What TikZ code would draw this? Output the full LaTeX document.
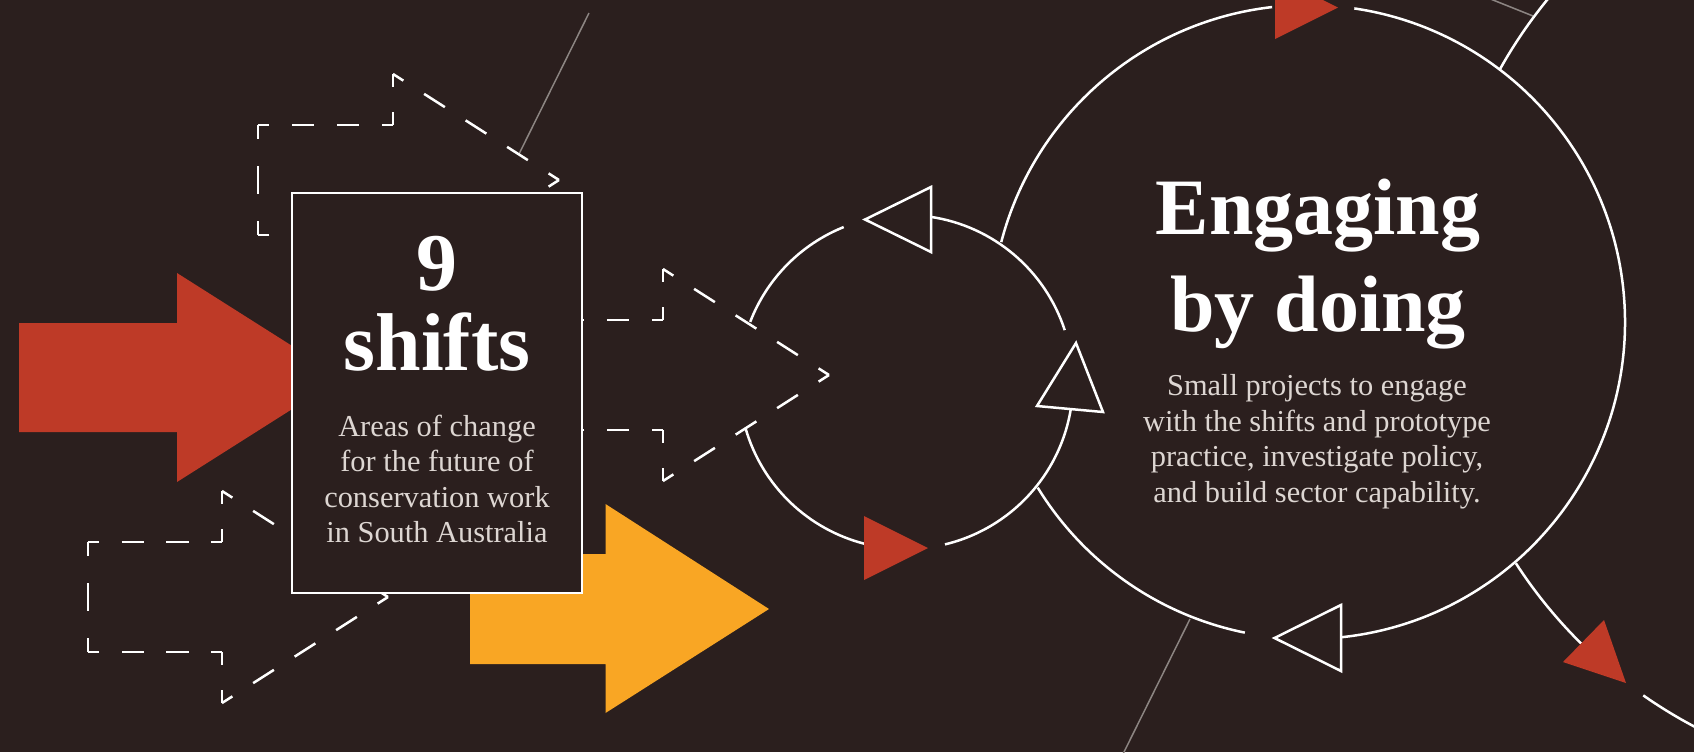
\documentclass[tikz,border=0pt]{standalone}
\usepackage{fontspec}
\setmainfont{Liberation Serif}
\usepackage{xcolor}
\usepackage{tikz}

\definecolor{bgbrown}{RGB}{43,31,30}
\definecolor{rustred}{RGB}{190,58,39}
\definecolor{ochre}{RGB}{249,166,36}
\definecolor{paletext}{RGB}{221,214,210}
\definecolor{greyline}{RGB}{140,133,130}

% one side of a dashed outline: dashes are stretched so that every
% corner gets half a dash from each side
\newcommand{\dashside}[2]{%
  \path (#1); \pgfgetlastxy{\dsax}{\dsay}%
  \path (#2); \pgfgetlastxy{\dsbx}{\dsby}%
  \pgfmathsetmacro{\dslen}{veclen(\dsbx-\dsax,\dsby-\dsay)}%
  \pgfmathsetmacro{\dsn}{max(1,round(\dslen/24))}%
  \pgfmathsetmacro{\dsd}{\dslen/(2*\dsn)}%
  \pgfmathsetmacro{\dsh}{\dsd/2}%
  \draw[dashedge, dash pattern=on \dsd pt off \dsd pt, dash phase=\dsh pt] (#1) -- (#2);%
}

\begin{document}
\begin{tikzpicture}[x=0.5pt,y=0.5pt,yscale=-1,xscale=1,
  whiteline/.style={draw=white,line width=1.25pt},
  dashedge/.style={draw=white,line width=1.25pt},
  openhead/.style={draw=white,fill=bgbrown,line width=1.25pt},
  leader/.style={draw=greyline,line width=0.75pt},
  boxframe/.style={draw=white,fill=bgbrown,line width=1pt},
  headtext/.style={text=white,align=center,anchor=base,inner sep=0pt,
    font=\fontsize{40}{48.5}\selectfont\bfseries},
  bodytext/.style={text=paletext,align=center,anchor=base,inner sep=0pt,
    font=\fontsize{15.2}{17.75}\selectfont}]
\useasboundingbox (0,0) rectangle (1694,752);
\fill[bgbrown] (0,0) rectangle (1694,752);
\clip (0,0) rectangle (1694,752);

%Straight Lines: thin grey leaders
\coordinate (lead1a) at (589,13);   \coordinate (lead1b) at (519,154);
\coordinate (lead2a) at (1488,-2);  \coordinate (lead2b) at (1533,16);
\coordinate (lead3a) at (1190,619); \coordinate (lead3b) at (1123,754);
\draw[leader] (lead1a) -- (lead1b);
\draw[leader] (lead2a) -- (lead2b);
\draw[leader] (lead3a) -- (lead3b);

%Shape: Circle arcs (big cycle, runs clockwise)
\coordinate (lc) at (1308,322);
\draw[whiteline] (lc) ++(-96.5:317) arc[start angle=-96.5, end angle=-165.4, radius=317];
\draw[whiteline] (lc) ++(84:317) arc[start angle=84, end angle=-81.6, radius=317];
\draw[whiteline] (lc) ++(-211.5:317) arc[start angle=-211.5, end angle=-258.5, radius=317];

%Shape: Circle arcs (side branch on the right)
\coordinate (tc) at (1918,303);
\draw[whiteline] (tc) ++(-135:479) arc[start angle=-135, end angle=-150.8, radius=479];
\draw[whiteline] (tc) ++(-212.9:479) arc[start angle=-212.9, end angle=-225.3, radius=479];
\draw[whiteline] (tc) ++(-235:479) arc[start angle=-235, end angle=-256, radius=479];

%Shape: dashed outline arrows (shaft left x / head x / centre y)
\foreach \n/\sx/\hx/\cy in {ul/258/393/180, md/528/663/375, ll/88/222/597}{
  \coordinate (\n1) at (\sx,\cy+55);
  \coordinate (\n2) at (\sx,\cy-55);
  \coordinate (\n3) at (\hx,\cy-55);
  \coordinate (\n4) at (\hx,\cy-106);
  \coordinate (\n5) at (\hx+166,\cy);
  \coordinate (\n6) at (\hx,\cy+106);
  \coordinate (\n7) at (\hx,\cy+55);
  \foreach \a/\b in {1/2,2/3,3/4,4/5,5/6,6/7,7/1}
    \dashside{\n\a}{\n\b};
}

%Shape: Right Arrow (red)
\fill[rustred] (19,323) -- (177,323) -- (177,273) -- (342,377.5) -- (177,482) -- (177,432) -- (19,432) -- cycle;
%Shape: Right Arrow (orange)
\fill[ochre] (470,554) -- (605.5,554) -- (605.5,504) -- (769,609) -- (605.5,713) -- (605.5,664) -- (470,664) -- cycle;

%Shape: Rectangle
\draw[boxframe] (292,193) rectangle (582,593);

%Shape: Circle arcs (small cycle, runs anticlockwise)
\coordinate (sc) at (906,382);
\draw[whiteline] (sc) ++(-18.1:167) arc[start angle=-18.1, end angle=-81.5, radius=167];
\draw[whiteline] (sc) ++(-111.9:167) arc[start angle=-111.9, end angle=-158.9, radius=167];
\draw[whiteline] (sc) ++(-196:167) arc[start angle=-196, end angle=-256, radius=167];
\draw[whiteline] (sc) ++(-283.5:167) arc[start angle=-283.5, end angle=-350.7, radius=167];

%Shape: Triangles on the small cycle
\draw[openhead] (865,219.5) -- (931,187) -- (931,252) -- cycle;
\draw[openhead] (1076,343) -- (1037,406) -- (1103,412) -- cycle;
\fill[rustred] (928,548) -- (864,516) -- (864,580) -- cycle;
%Shape: Triangles on the big cycle and the branch
\fill[rustred] (1338,7.5) -- (1275,-24) -- (1275,39) -- cycle;
\draw[openhead] (1274.5,638) -- (1341,605) -- (1341,671) -- cycle;
\fill[rustred] (1626,683) -- (1604,620) -- (1563,662) -- cycle;

% Text Node (anchored on the last line)
\node[headtext, font=\fontsize{41}{40}\selectfont\bfseries] (shifts) at (437,370) {9\\shifts};
% Text Node
\node[bodytext] (areas) at (437,542.7) {Areas of change\\for the future of\\conservation work\\in South Australia};
% Text Node
\node[headtext] (engaging) at (1318,331.7) {Engaging\\by doing};
% Text Node
\node[bodytext] (projects) at (1317,502) {Small projects to engage\\with the shifts and prototype\\practice, investigate policy,\\and build sector capability.};

\end{tikzpicture}
\end{document}
